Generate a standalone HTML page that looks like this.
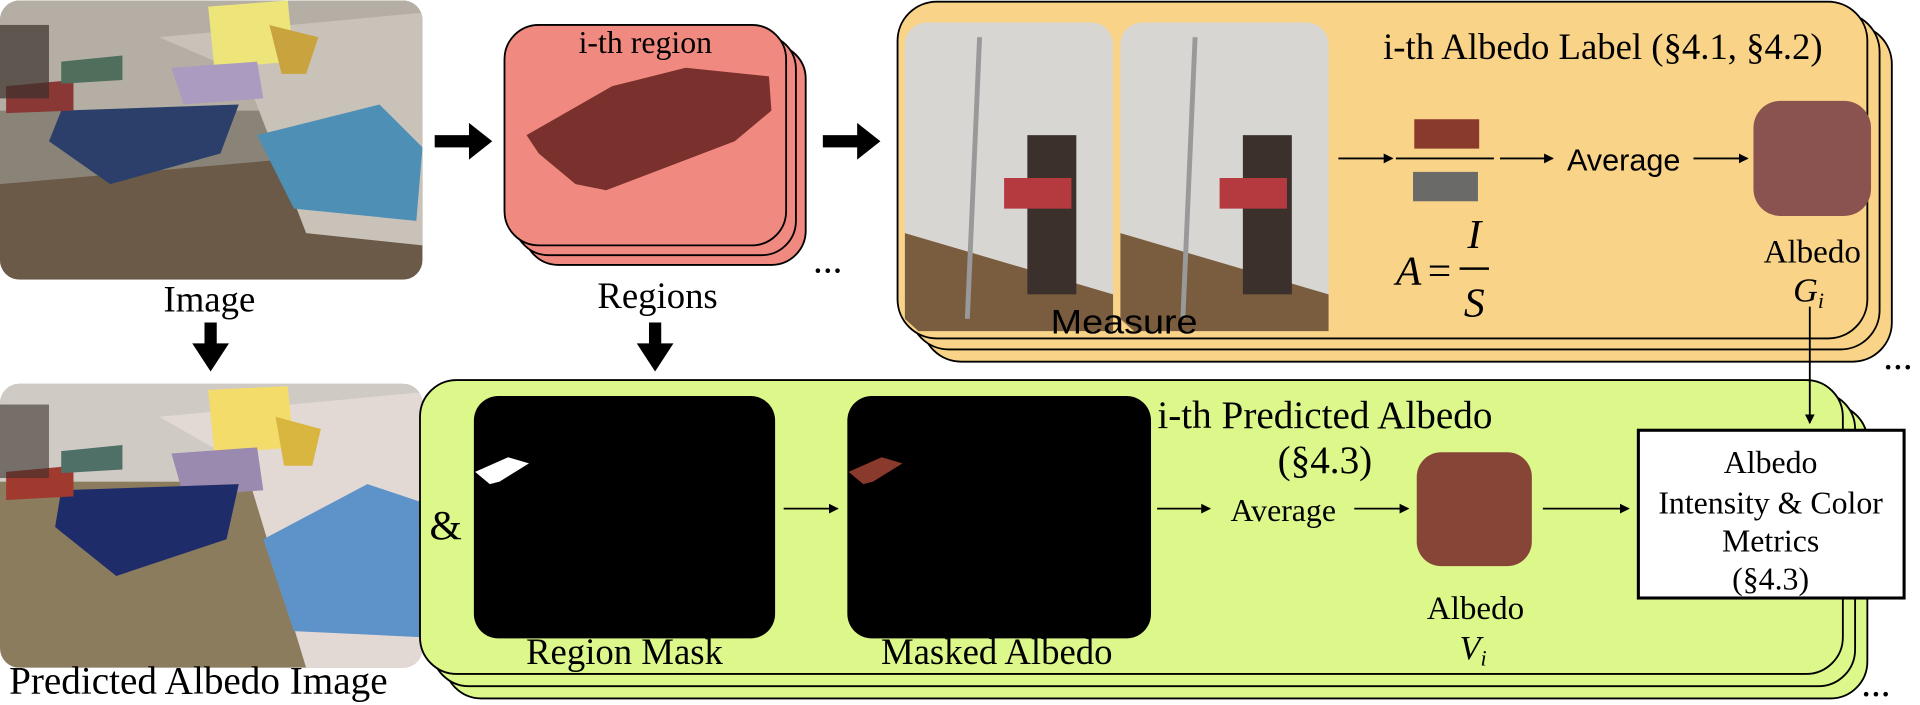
<!DOCTYPE html>
<html><head><meta charset="utf-8"><style>
html,body{margin:0;padding:0;background:#fff;}
svg{display:block}
.t{font-family:"Liberation Serif",serif;fill:#000}
.s{font-family:"Liberation Sans",sans-serif;fill:#000}
</style></head><body>
<svg width="1920" height="705" viewBox="0 0 1568 575" xmlns="http://www.w3.org/2000/svg">
<defs>
<marker id="a" markerWidth="8" markerHeight="8" refX="7" refY="4" orient="auto" markerUnits="userSpaceOnUse"><path d="M0,0 L8,4 L0,8 z" fill="#000"/></marker>
<clipPath id="c1"><rect x="0" y="0" width="345" height="228" rx="16"/></clipPath>
<clipPath id="c2"><rect x="0" y="313" width="345" height="232" rx="16"/></clipPath>
</defs>
<g clip-path="url(#c1)">
<rect x="0" y="0" width="345" height="228" fill="#8a8478"/>
<rect x="0" y="0" width="345" height="90" fill="#b4aea4"/>
<polygon points="0,150 345,120 345,228 0,228" fill="#6b5a48"/>
<polygon points="130,30 345,10 345,200 250,190 200,60" fill="#c9c2b8"/>
<polygon points="170,5 235,0 240,50 175,55" fill="#eee57a"/>
<polygon points="140,55 210,50 215,80 150,85" fill="#a99cc0"/>
<polygon points="220,20 260,30 250,60 230,60" fill="#c9a33e"/>
<polygon points="210,110 310,85 345,120 340,180 240,170" fill="#4d8fb5"/>
<polygon points="50,90 195,85 180,125 90,150 40,115" fill="#2c3f6a"/>
<polygon points="5,70 60,65 60,90 5,92" fill="#8a3836"/>
<polygon points="50,50 100,45 100,65 50,68" fill="#4f6e5c"/>
<rect x="0" y="20" width="40" height="60" fill="#3a302c" opacity=".7"/>
</g>
<text class="t" x="171" y="254" font-size="30" text-anchor="middle">Image</text>
<g fill="#000">
<rect x="355" y="110" width="30" height="10"/><polygon points="383,100 402,115 383,130"/>
<rect x="672" y="110" width="30" height="10"/><polygon points="700,100 719,115 700,130"/>
<rect x="167" y="263" width="10" height="20"/><polygon points="157,280 187,280 172,303"/>
<rect x="530" y="263" width="10" height="20"/><polygon points="520,280 550,280 535,303"/>
</g>
<rect x="428" y="36" width="230" height="180" rx="28" fill="#f08a80" stroke="#000" stroke-width="1.5"/>
<rect x="420" y="28" width="230" height="180" rx="28" fill="#f08a80" stroke="#000" stroke-width="1.5"/>
<rect x="412" y="20" width="230" height="180" rx="28" fill="#f08a80" stroke="#000" stroke-width="1.5"/>
<polygon points="430,110 500,70 560,55 628,62 630,90 600,115 495,155 470,150 440,125" fill="#7a302c"/>
<text class="t" x="527" y="43" font-size="26" text-anchor="middle">i-th region</text>
<text class="t" x="537" y="251" font-size="30" text-anchor="middle">Regions</text>
<text class="t" x="676" y="222" font-size="32" text-anchor="middle">...</text>
<rect x="753" y="20" width="792" height="275" rx="32" fill="#f8d388" stroke="#000" stroke-width="1.5"/>
<rect x="743" y="10" width="792" height="275" rx="32" fill="#f8d388" stroke="#000" stroke-width="1.5"/>
<rect x="733" y="1" width="792" height="275" rx="32" fill="#f8d388" stroke="#000" stroke-width="1.5"/>
<g>
<rect x="739" y="18" width="170" height="252" rx="18" fill="#d8d6d2"/>
<polygon points="739,190 909,240 909,270 750,270 739,260" fill="#7a5d3e"/>
<rect x="839" y="110" width="40" height="130" fill="#3b302c"/>
<rect x="820" y="145" width="55" height="25" fill="#b53a40"/>
<line x1="800" y1="30" x2="790" y2="260" stroke="#999" stroke-width="4"/>
<rect x="915" y="18" width="170" height="252" rx="18" fill="#d8d6d2"/>
<polygon points="915,190 1085,240 1085,270 926,270 915,260" fill="#7a5d3e"/>
<rect x="1015" y="110" width="40" height="130" fill="#3b302c"/>
<rect x="996" y="145" width="55" height="25" fill="#b53a40"/>
<line x1="976" y1="30" x2="966" y2="260" stroke="#999" stroke-width="4"/>
</g>
<text class="s" x="918" y="272" font-size="28" text-anchor="middle" textLength="120" lengthAdjust="spacingAndGlyphs">Measure</text>
<text class="t" x="1309" y="48" font-size="30" text-anchor="middle">i-th Albedo Label (§4.1, §4.2)</text>
<rect x="1155" y="97" width="53" height="24" fill="#8a3a2c"/>
<rect x="1154" y="140" width="53" height="24" fill="#6a6a68"/>
<line x1="1140" y1="129" x2="1220" y2="129" stroke="#000" stroke-width="1.5"/>
<line x1="1093" y1="129" x2="1137" y2="129" stroke="#000" stroke-width="1.5" marker-end="url(#a)"/>
<line x1="1225" y1="129" x2="1268" y2="129" stroke="#000" stroke-width="1.5" marker-end="url(#a)"/>
<text class="s" x="1326" y="139" font-size="25" text-anchor="middle">Average</text>
<line x1="1383" y1="129" x2="1427" y2="129" stroke="#000" stroke-width="1.5" marker-end="url(#a)"/>
<rect x="1432" y="82" width="96" height="94" rx="22" fill="#8b5350"/>
<text class="t" x="1480" y="214" font-size="27" text-anchor="middle">Albedo</text>
<text class="t" x="1477" y="246" font-size="28" font-style="italic" text-anchor="middle">G<tspan font-size="18" dy="5">i</tspan></text>
<text class="t" x="1140" y="232" font-size="34" font-style="italic">A</text>
<text class="t" x="1166" y="232" font-size="34">=</text>
<text class="t" x="1204" y="202" font-size="34" font-style="italic" text-anchor="middle">I</text>
<line x1="1192" y1="219" x2="1216" y2="219" stroke="#000" stroke-width="2"/>
<text class="t" x="1204" y="258" font-size="34" font-style="italic" text-anchor="middle">S</text>
<text class="t" x="1550" y="301" font-size="32" text-anchor="middle">...</text>
<g clip-path="url(#c2)">
<rect x="0" y="313" width="345" height="232" fill="#8c7c5e"/>
<rect x="0" y="313" width="345" height="80" fill="#cfcbc4"/>
<polygon points="130,340 345,320 345,545 250,545 200,380" fill="#e2d8d4"/>
<polygon points="170,318 235,315 240,365 175,370" fill="#f4dc6a"/>
<polygon points="140,370 210,365 215,400 150,405" fill="#9a8ab0"/>
<polygon points="225,340 262,350 255,380 232,380" fill="#d9b640"/>
<polygon points="215,440 300,395 345,410 345,520 240,515" fill="#5d93c8"/>
<polygon points="50,400 195,395 185,440 95,470 45,430" fill="#1f2c6a"/>
<polygon points="5,385 60,380 60,405 5,408" fill="#a0392e"/>
<polygon points="50,368 100,363 100,383 50,386" fill="#4f7066"/>
<rect x="0" y="330" width="40" height="60" fill="#3a302c" opacity=".6"/>
</g>
<text class="t" x="162" y="566" font-size="32" text-anchor="middle">Predicted Albedo Image</text>
<rect x="363" y="330" width="1162" height="240" rx="30" fill="#dcf78a" stroke="#000" stroke-width="1.5"/>
<rect x="353" y="320" width="1162" height="240" rx="30" fill="#dcf78a" stroke="#000" stroke-width="1.5"/>
<rect x="343" y="310" width="1162" height="240" rx="30" fill="#dcf78a" stroke="#000" stroke-width="1.5"/>
<rect x="387" y="323" width="246" height="198" rx="20" fill="#000"/>
<polygon points="388,385 415,373 432,378 408,393 400,395" fill="#fff"/>
<rect x="692" y="323" width="248" height="198" rx="20" fill="#000"/>
<polygon points="693,385 720,373 737,378 713,393 705,395" fill="#8a3a2c"/>
<text class="t" x="364" y="440" font-size="34" text-anchor="middle">&amp;</text>
<text class="t" x="510" y="542" font-size="30" text-anchor="middle">Region Mask</text>
<text class="t" x="814" y="542" font-size="30" text-anchor="middle">Masked Albedo</text>
<line x1="640" y1="415" x2="684" y2="415" stroke="#000" stroke-width="1.5" marker-end="url(#a)"/>
<text class="t" x="1082" y="349" font-size="32" text-anchor="middle">i-th Predicted Albedo</text>
<text class="t" x="1082" y="386" font-size="32" text-anchor="middle">(§4.3)</text>
<line x1="945" y1="415" x2="988" y2="415" stroke="#000" stroke-width="1.5" marker-end="url(#a)"/>
<text class="t" x="1048" y="425" font-size="26" text-anchor="middle">Average</text>
<line x1="1106" y1="415" x2="1150" y2="415" stroke="#000" stroke-width="1.5" marker-end="url(#a)"/>
<rect x="1157" y="369" width="94" height="93" rx="20" fill="#874538"/>
<text class="t" x="1205" y="505" font-size="27" text-anchor="middle">Albedo</text>
<text class="t" x="1203" y="538" font-size="28" font-style="italic" text-anchor="middle">V<tspan font-size="18" dy="5">i</tspan></text>
<text class="t" x="1532" y="568" font-size="32" text-anchor="middle">...</text>
<line x1="1260" y1="415" x2="1330" y2="415" stroke="#000" stroke-width="1.5" marker-end="url(#a)"/>
<line x1="1478" y1="250" x2="1478" y2="345" stroke="#000" stroke-width="1.5" marker-end="url(#a)"/>
<rect x="1338" y="351" width="217" height="137" fill="#fff" stroke="#000" stroke-width="2.5"/>
<text class="t" x="1446" y="386" font-size="26" text-anchor="middle">Albedo</text>
<text class="t" x="1446" y="419" font-size="26" text-anchor="middle">Intensity &amp; Color</text>
<text class="t" x="1446" y="450" font-size="26" text-anchor="middle">Metrics</text>
<text class="t" x="1446" y="481" font-size="26" text-anchor="middle">(§4.3)</text>
</svg>
</body></html>
